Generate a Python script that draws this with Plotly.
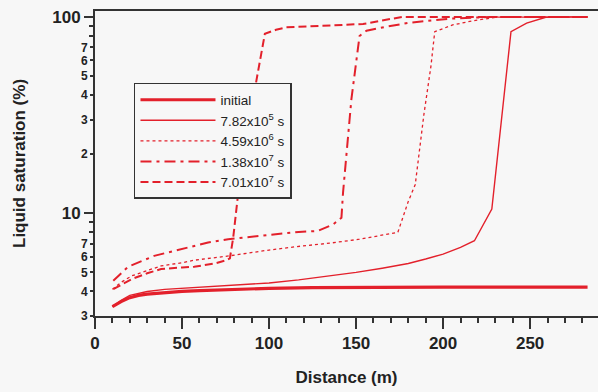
import plotly.graph_objects as go

RED = "#e3202b"
BG = "#f7f7f7"
INK = "#222222"

# ---- data ----
d_init = [10, 15, 20, 25, 30, 40, 50, 60, 75, 90, 100, 125, 150, 200, 250, 283]
v_init = [3.35, 3.55, 3.72, 3.82, 3.88, 3.95, 4.0, 4.04, 4.09, 4.13, 4.15, 4.18, 4.2, 4.21, 4.21, 4.21]

d_t1 = [10, 15, 20, 30, 40, 50, 60, 75, 90, 100, 117, 135, 150, 165, 180, 190, 200, 210, 218, 228, 239, 248, 259, 283]
v_t1 = [3.35, 3.6, 3.82, 4.0, 4.1, 4.15, 4.2, 4.28, 4.36, 4.42, 4.58, 4.8, 5.0, 5.25, 5.55, 5.85, 6.2, 6.7, 7.25, 10.5, 84, 93, 99.6, 100]

d_t2 = [10, 15, 21, 30, 38, 50, 57, 77, 90, 100, 118, 135, 152, 174, 180, 184, 189, 193, 195.2, 205.5, 217, 230.6, 283]
v_t2 = [4.1, 4.45, 4.8, 5.1, 5.4, 5.6, 5.77, 6.07, 6.32, 6.5, 6.8, 7.05, 7.38, 8.0, 11.5, 14, 32, 56, 84, 91, 95.5, 99.6, 100]

d_t3 = [10.5, 19, 34, 50, 65, 76.5, 90, 117, 128, 137, 141.6, 142.5, 147.3, 150, 152, 156, 167, 181, 204, 227, 283]
v_t3 = [4.53, 5.34, 6.07, 6.56, 7.1, 7.38, 7.6, 8.04, 8.13, 8.8, 9.5, 12.7, 38, 58, 80, 85, 89, 93.5, 98, 99.8, 100]

d_t4 = [10.5, 21, 30, 38, 50, 57, 69, 75.6, 77.5, 79.4, 82.3, 92.8, 97.6, 104, 110, 129, 154, 171, 177, 283]
v_t4 = [4.11, 4.62, 4.95, 5.2, 5.3, 5.34, 5.56, 5.77, 5.9, 7.5, 12.7, 47.8, 82, 86, 88.5, 89.8, 92, 98, 100, 100]

names = ["initial", "7.82x10<sup>5</sup> s", "4.59x10<sup>6</sup> s",
         "1.38x10<sup>7</sup> s", "7.01x10<sup>7</sup> s"]

x_ticks = [0, 50, 100, 150, 200, 250]
y_major = [10, 100]
y_major_text = ["10", "100"]
y_minor_lab = [3, 4, 5, 6, 7, 20, 30, 40, 50, 60, 70]
y_minor_text = ["3", "4", "5", "6", "7", "2", "3", "4", "5", "6", "7"]
y_minor_unlab = [8, 9, 80, 90]

series = [
    (d_init, v_init, dict(color=RED, width=3.2, dash="solid")),
    (d_t1, v_t1, dict(color=RED, width=1.4, dash="solid")),
    (d_t2, v_t2, dict(color=RED, width=1.3, dash="dot")),
    (d_t3, v_t3, dict(color=RED, width=2.0, dash="11px,5px,3px,5px")),
    (d_t4, v_t4, dict(color=RED, width=2.0, dash="8px,4px")),
]

fig = go.Figure()
for i, ((dx, vy, ln), nm) in enumerate(zip(series, names)):
    fig.add_trace(go.Scatter(x=dx, y=vy, mode="lines", name=nm, line=ln,
                             yaxis="y2" if i == 0 else "y"))

yr = [0.4771, 2.03]
font_fam = "Liberation Sans, Arial, Helvetica, sans-serif"

fig.update_layout(
    width=598, height=392,
    margin=dict(l=95, r=0, t=11, b=76),
    paper_bgcolor=BG, plot_bgcolor=BG,
    font=dict(family=font_fam, color=INK),
    showlegend=True,
    legend=dict(x=0.0775, y=0.764, xanchor="left", yanchor="top",
                bgcolor=BG, bordercolor="#333333", borderwidth=1.5,
                font=dict(size=13.5, family=font_fam, color=INK),
                itemwidth=75, tracegroupgap=0),
    xaxis=dict(range=[0, 289], tickvals=x_ticks, ticks="outside", ticklen=11,
               tickwidth=1.5, tickcolor="#333", showline=True, linecolor="#333",
               linewidth=2, mirror=True, showgrid=False, zeroline=False,
               tickfont=dict(size=17, weight="bold", color=INK),
               minor=dict(dtick=10, ticks="outside", ticklen=5, tickwidth=1.5,
                          tickcolor="#333", showgrid=False),
               title=dict(text="Distance (m)", font=dict(size=17, weight="bold"),
                          standoff=19)),
    yaxis=dict(type="log", range=yr, tickvals=y_major, ticktext=y_major_text,
               ticks="outside", ticklen=9, tickwidth=1.5, tickcolor="#333",
               showline=True, linecolor="#333", linewidth=2, showgrid=False,
               zeroline=False, tickfont=dict(size=17, weight="bold", color=INK),
               minor=dict(tickvals=y_minor_unlab, ticks="outside", ticklen=4,
                          tickwidth=1.5, tickcolor="#333", showgrid=False),
               title=dict(text="Liquid saturation (%)",
                          font=dict(size=17, weight="bold"), standoff=22)),
    yaxis2=dict(type="log", range=yr, overlaying="y", side="left",
                tickvals=y_minor_lab, ticktext=y_minor_text, ticks="outside",
                ticklen=4, tickwidth=1.5, tickcolor="#333", showline=False,
                showgrid=False, zeroline=False,
                tickfont=dict(size=12, weight="bold", color=INK)),
)

fig.write_html("out.html")
